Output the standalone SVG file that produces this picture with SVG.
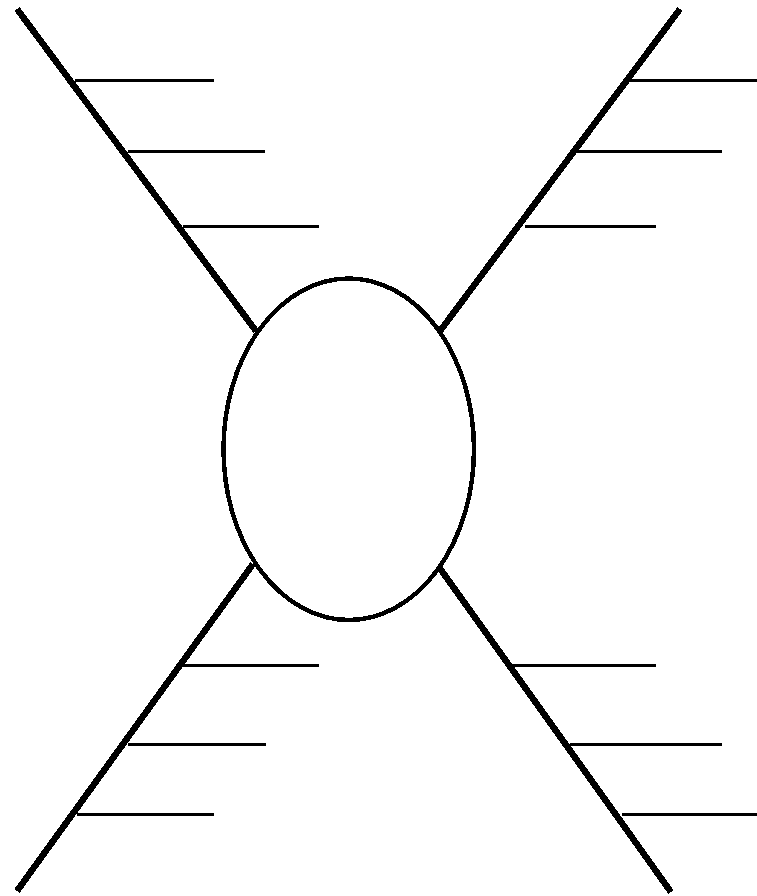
<svg xmlns="http://www.w3.org/2000/svg" width="757" height="896" viewBox="0 0 757 896">
<style>
.bone{stroke:#000;stroke-width:6.5;fill:none;shape-rendering:crispEdges}
.rib{stroke:#000;stroke-width:3;fill:none;shape-rendering:crispEdges}
.head{stroke:#000;stroke-width:4.5;fill:#fff;shape-rendering:crispEdges}
</style>
<rect width="757" height="896" fill="#fff"/>
<g id="connectors">
<line class="bone" x1="17" y1="9" x2="256" y2="331"/>
<line class="bone" x1="680" y1="9" x2="440" y2="331"/>
<line class="bone" x1="253" y1="564" x2="17" y2="891"/>
<line class="bone" x1="439" y1="567" x2="671" y2="892"/>
<line class="rib" x1="75" y1="80" x2="214" y2="80"/>
<line class="rib" x1="128" y1="151" x2="265" y2="151"/>
<line class="rib" x1="183" y1="226" x2="319" y2="226"/>
<line class="rib" x1="627" y1="80" x2="757" y2="80"/>
<line class="rib" x1="577" y1="151" x2="722" y2="151"/>
<line class="rib" x1="525" y1="226" x2="656" y2="226"/>
<line class="rib" x1="183" y1="665" x2="319" y2="665"/>
<line class="rib" x1="128" y1="744" x2="266" y2="744"/>
<line class="rib" x1="77" y1="814" x2="214" y2="814"/>
<line class="rib" x1="512" y1="665" x2="656" y2="665"/>
<line class="rib" x1="570" y1="744" x2="722" y2="744"/>
<line class="rib" x1="622" y1="814" x2="757" y2="814"/>
</g>
<g id="center">
<ellipse class="head" cx="348.75" cy="449.25" rx="125.25" ry="170.75"/>
</g>
</svg>
